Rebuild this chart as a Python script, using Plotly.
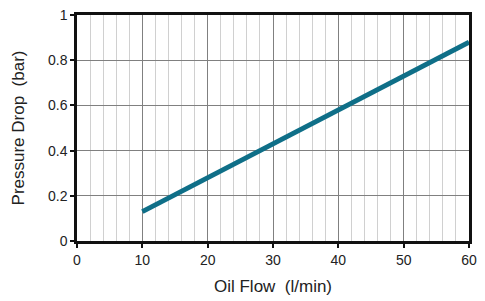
import plotly.graph_objects as go

flow = [10, 60]
pressure = [0.13, 0.88]
x_ticks = [0, 10, 20, 30, 40, 50, 60]
y_ticks = [0, 0.2, 0.4, 0.6, 0.8, 1]
y_labels = ["0", "0.2", "0.4", "0.6", "0.8", "1"]

fig = go.Figure(go.Scatter(x=flow, y=pressure, mode="lines",
                           line=dict(color="#0f6f88", width=5)))
font = dict(family="Liberation Sans, Arial, sans-serif", size=14, color="#222")
fig.update_layout(
    width=485, height=301,
    margin=dict(l=77, r=16, t=15, b=60),
    paper_bgcolor="white", plot_bgcolor="white",
    showlegend=False, font=font,
)
fig.update_xaxes(
    range=[0, 60], tickvals=x_ticks, showgrid=True, gridcolor="#808080", gridwidth=1,
    minor=dict(dtick=2, tick0=0, showgrid=True, gridcolor="#d0d0d0", gridwidth=1, ticks=""),
    showline=True, linecolor="#111", linewidth=2.5, mirror=True,
    ticks="outside", ticklen=4, tickcolor="#111", tickwidth=1.5,
    zeroline=False, automargin=False,
    title=dict(text="Oil Flow\u00a0\u00a0(l/min)", font=dict(size=17, color="#222"), standoff=14),
)
fig.update_yaxes(
    range=[0, 1], tickvals=y_ticks, ticktext=y_labels, showgrid=True, gridcolor="#808080", gridwidth=1,
    showline=True, linecolor="#111", linewidth=2.5, mirror=True,
    ticks="outside", ticklen=4, tickcolor="#111", tickwidth=1.5,
    zeroline=False, automargin=False,
    title=dict(text="Pressure Drop\u00a0\u00a0(bar)", font=dict(size=17, color="#222"), standoff=20),
)
fig.write_html("out.html")
